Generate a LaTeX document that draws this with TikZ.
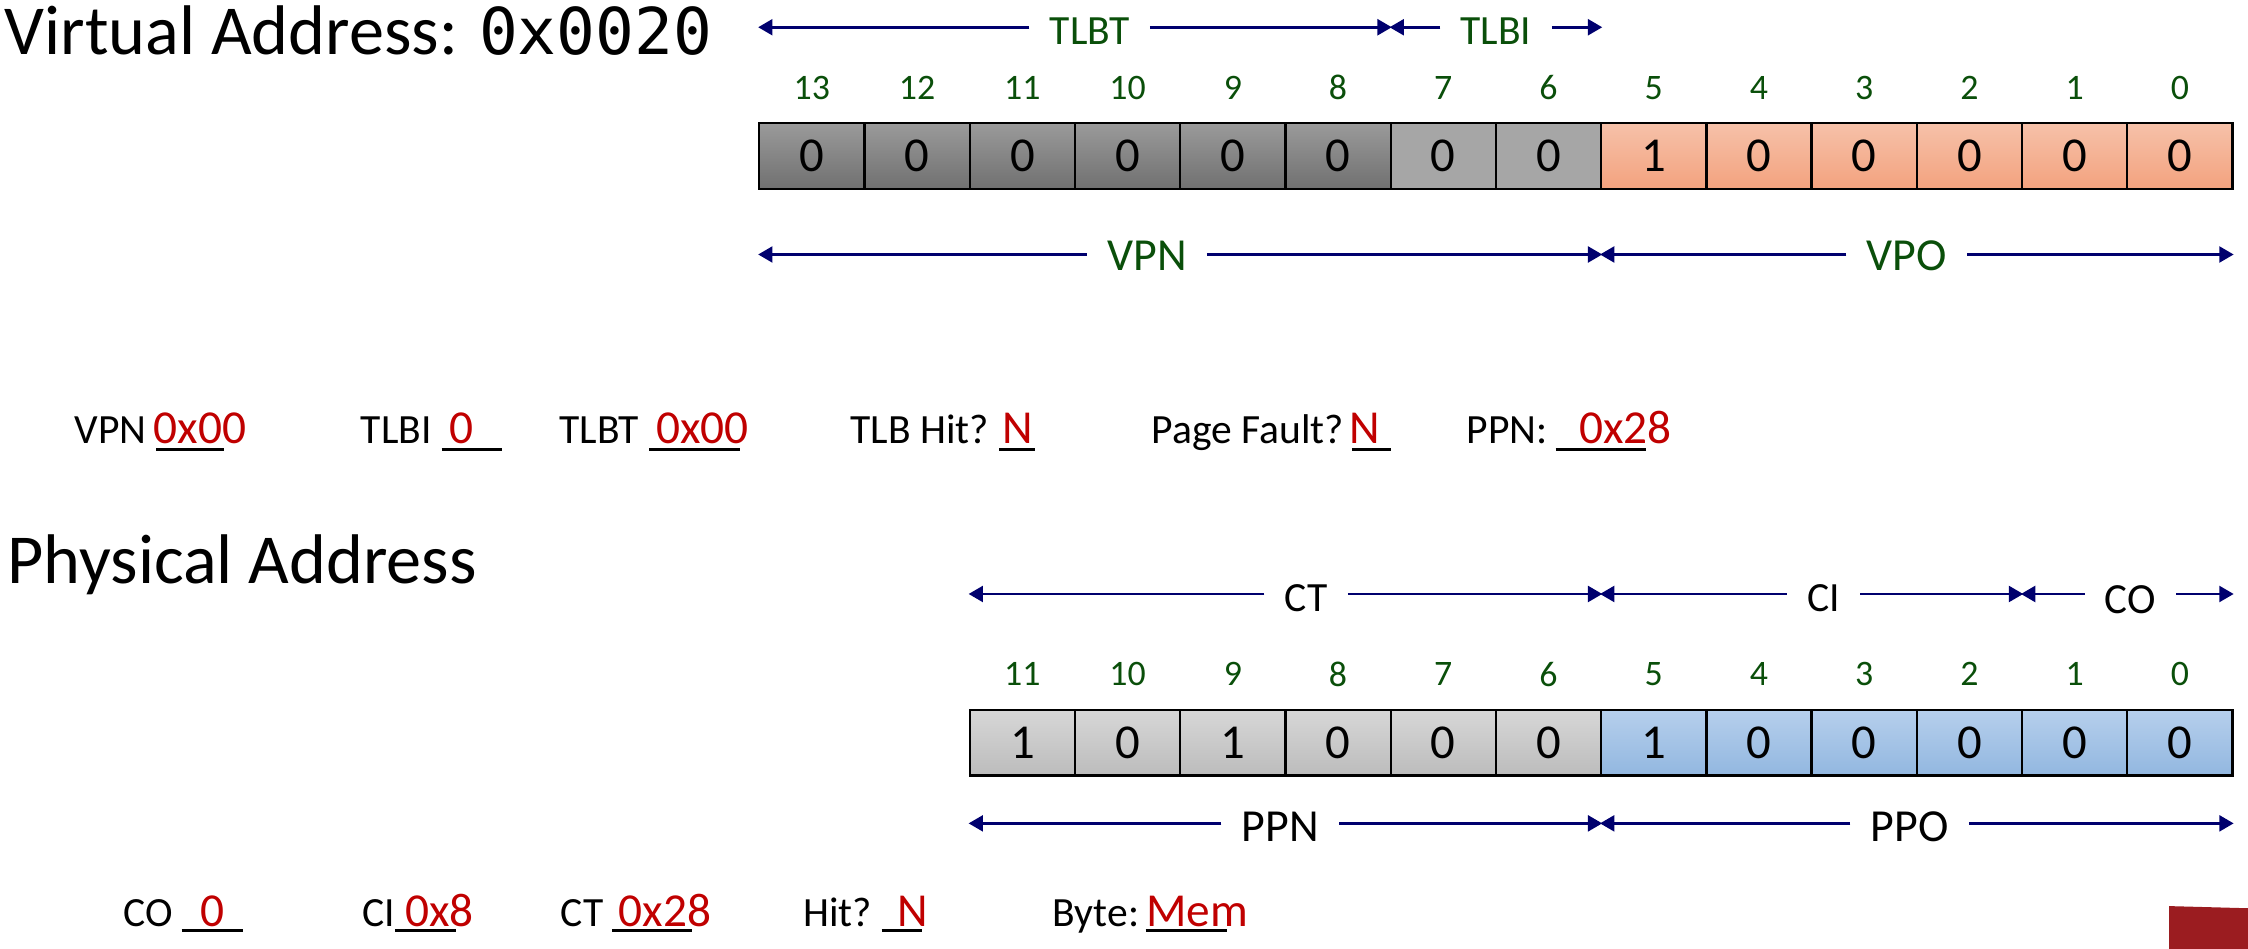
\documentclass[tikz,border=0pt]{standalone}
\usepackage{fontspec}
\setmainfont{Carlito}
\newfontfamily\monof{DejaVu Sans Mono}
\usetikzlibrary{arrows.meta}
\definecolor{gtxt}{HTML}{0A4F0A}
\definecolor{navyarr}{HTML}{00006E}
\definecolor{ansred}{HTML}{C00000}
\definecolor{sqred}{HTML}{9B1C20}
\definecolor{dkgtop}{HTML}{9A9A9A}
\definecolor{dkgbot}{HTML}{707070}
\definecolor{midg}{HTML}{A6A6A6}
\definecolor{ortop}{HTML}{F6C1A9}
\definecolor{orbot}{HTML}{F3A27E}
\definecolor{lgtop}{HTML}{D7D7D7}
\definecolor{lgbot}{HTML}{BCBCBC}
\definecolor{bltop}{HTML}{B6CFEC}
\definecolor{blbot}{HTML}{92B7E0}
\begin{document}
\begin{tikzpicture}[x=1pt,y=-1pt,
  fs/.style={font=\fontsize{#1}{#1}\selectfont},
  bitbox/.style={draw=black, line width=1.6pt, minimum width=73.4pt, minimum height=46pt, inner sep=0pt, fs=34},
  darkfill/.style={top color=dkgtop, bottom color=dkgbot},
  midfill/.style={fill=midg},
  orfill/.style={top color=ortop, bottom color=orbot},
  lgfill/.style={top color=lgtop, bottom color=lgbot},
  blfill/.style={top color=bltop, bottom color=blbot},
  bitnum/.style={inner sep=0pt, text=gtxt, fs=25},
  glbl/.style={inner xsep=14pt, inner ysep=0pt, text=gtxt, fs=#1},
  klbl/.style={inner xsep=14pt, inner ysep=0pt, text=black, fs=#1},
  arr/.style={-{Triangle[length=10pt,width=11pt]}, line width=2pt, draw=navyarr},
  ques/.style={anchor=base west, inner sep=0pt, text=black, fs=29},
  ans/.style={anchor=base west, inner sep=0pt, text=ansred, fs=33},
  uline/.style={line width=2pt, draw=black},
  ttl/.style={anchor=base west, inner sep=0pt, text=black, fs=49}
]
\useasboundingbox (0,0) rectangle (1568,661.93);

% ---------- titles ----------
\node[ttl] (vtitle) at (3,37.7) {Virtual Address: {\monof\fontsize{45}{45}\selectfont 0x0020}};
\node[ttl] (ptitle) at (5,406.8) {Physical Address};

% ---------- virtual address bits ----------
\foreach \b in {13,12,11,10,9,8}
  \node[bitbox, darkfill] (v\b) at ({566.3+(13-\b)*73.4},109) {0};
\foreach \b in {7,6}
  \node[bitbox, midfill] (v\b) at ({566.3+(13-\b)*73.4},109) {0};
\foreach \b/\v in {5/1,4/0,3/0,2/0,1/0,0/0}
  \node[bitbox, orfill] (v\b) at ({566.3+(13-\b)*73.4},109) {\v};
\foreach \b in {13,...,0}
  \node[bitnum] (vn\b) at ([yshift=24pt]v\b.north) {\b};

% virtual field arrows
\coordinate (yTop) at (0,19);
\coordinate (yBot) at (0,177.5);
\node[glbl=29] (tlbt) at (760,22) {TLBT};
\node[glbl=29] (tlbi) at (1043.5,22) {TLBI};
\draw[arr] (tlbt.west |- yTop) -- (v13.west |- yTop);
\draw[arr] (tlbt.east |- yTop) -- (v8.east |- yTop);
\draw[arr] (tlbi.west |- yTop) -- (v7.west |- yTop);
\draw[arr] (tlbi.east |- yTop) -- (v6.east |- yTop);
\node[glbl=32] (vpn) at (800,178.5) {VPN};
\node[glbl=32] (vpo) at (1330,178.5) {VPO};
\draw[arr] (vpn.west |- yBot) -- (v13.west |- yBot);
\draw[arr] (vpn.east |- yBot) -- (v6.east |- yBot);
\draw[arr] (vpo.west |- yBot) -- (v5.west |- yBot);
\draw[arr] (vpo.east |- yBot) -- (v0.east |- yBot);

% ---------- answers row 1 ----------
\node[ques] (q1) at (52,309) {VPN};
\node[ans] (a1) at (107,309) {0x00};
\draw[uline] (109,313.5) -- (156,313.5);
\node[ques] (q2) at (251.5,309) {TLBI};
\node[ans] (a2) at (313,309) {0};
\draw[uline] (308,313.5) -- (350,313.5);
\node[ques] (q3) at (390,309) {TLBT};
\node[ans] (a3) at (457.5,309) {0x00};
\draw[uline] (453,313.5) -- (516,313.5);
\node[ques] (q4) at (593,309) {TLB Hit?};
\node[ans] (a4) at (699,309) {N};
\draw[uline] (697,313.5) -- (722,313.5);
\node[ques] (q5) at (803,309) {Page Fault?};
\node[ans] (a5) at (941,309) {N};
\draw[uline] (943,313.5) -- (970,313.5);
\node[ques] (q6) at (1023,309) {PPN:};
\node[ans] (a6) at (1101.5,309) {0x28};
\draw[uline] (1085,313.5) -- (1148,313.5);

% ---------- physical address bits ----------
\foreach \b/\v in {11/1,10/0,9/1,8/0,7/0,6/0}
  \node[bitbox, lgfill] (p\b) at ({713.1+(11-\b)*73.4},518) {\v};
\foreach \b/\v in {5/1,4/0,3/0,2/0,1/0,0/0}
  \node[bitbox, blfill] (p\b) at ({713.1+(11-\b)*73.4},518) {\v};
\foreach \b in {11,...,0}
  \node[bitnum] (pn\b) at ([yshift=24pt]p\b.north) {\b};

% physical field arrows
\coordinate (pTop) at (0,414.3);
\coordinate (pBot) at (0,574.3);
\node[klbl=29] (ct) at (911,417.5) {CT};
\node[klbl=29] (ci) at (1272,417.5) {CI};
\node[klbl=30] (co) at (1486,418) {CO};
\draw[arr] (ct.west |- pTop) -- (p11.west |- pTop);
\draw[arr] (ct.east |- pTop) -- (p6.east |- pTop);
\draw[arr] (ci.west |- pTop) -- (p5.west |- pTop);
\draw[arr] (ci.east |- pTop) -- (p2.east |- pTop);
\draw[arr] (co.west |- pTop) -- (p1.west |- pTop);
\draw[arr] (co.east |- pTop) -- (p0.east |- pTop);
\node[klbl=32] (ppn) at (893,577) {PPN};
\node[klbl=32] (ppo) at (1332,577) {PPO};
\draw[arr] (ppn.west |- pBot) -- (p11.west |- pBot);
\draw[arr] (ppn.east |- pBot) -- (p6.east |- pBot);
\draw[arr] (ppo.west |- pBot) -- (p5.west |- pBot);
\draw[arr] (ppo.east |- pBot) -- (p0.east |- pBot);

% ---------- answers row 2 ----------
\node[ques] (r1) at (86,646) {CO};
\node[ans] (b1) at (139.5,646) {0};
\draw[uline] (126.7,649) -- (169.3,649);
\node[ques] (r2) at (252.5,646) {CI};
\node[ans] (b2) at (282.5,646) {0x8};
\draw[uline] (275.5,649) -- (318,649);
\node[ques] (r3) at (391,646) {CT};
\node[ans] (b3) at (431.5,646) {0x28};
\draw[uline] (427,649) -- (483,649);
\node[ques] (r4) at (560,646) {Hit?};
\node[ans] (b4) at (625.5,646) {N};
\draw[uline] (615,649) -- (643,649);
\node[ques] (r5) at (734,646) {Byte:};
\node[ans] (b5) at (799.5,646) {Mem};
\draw[uline] (799,649) -- (856,649);

% ---------- corner mark ----------
\fill[sqred] (1513,632) -- (1568,633.5) -- (1568,661.93) -- (1513,661.93) -- cycle;
\end{tikzpicture}
\end{document}
